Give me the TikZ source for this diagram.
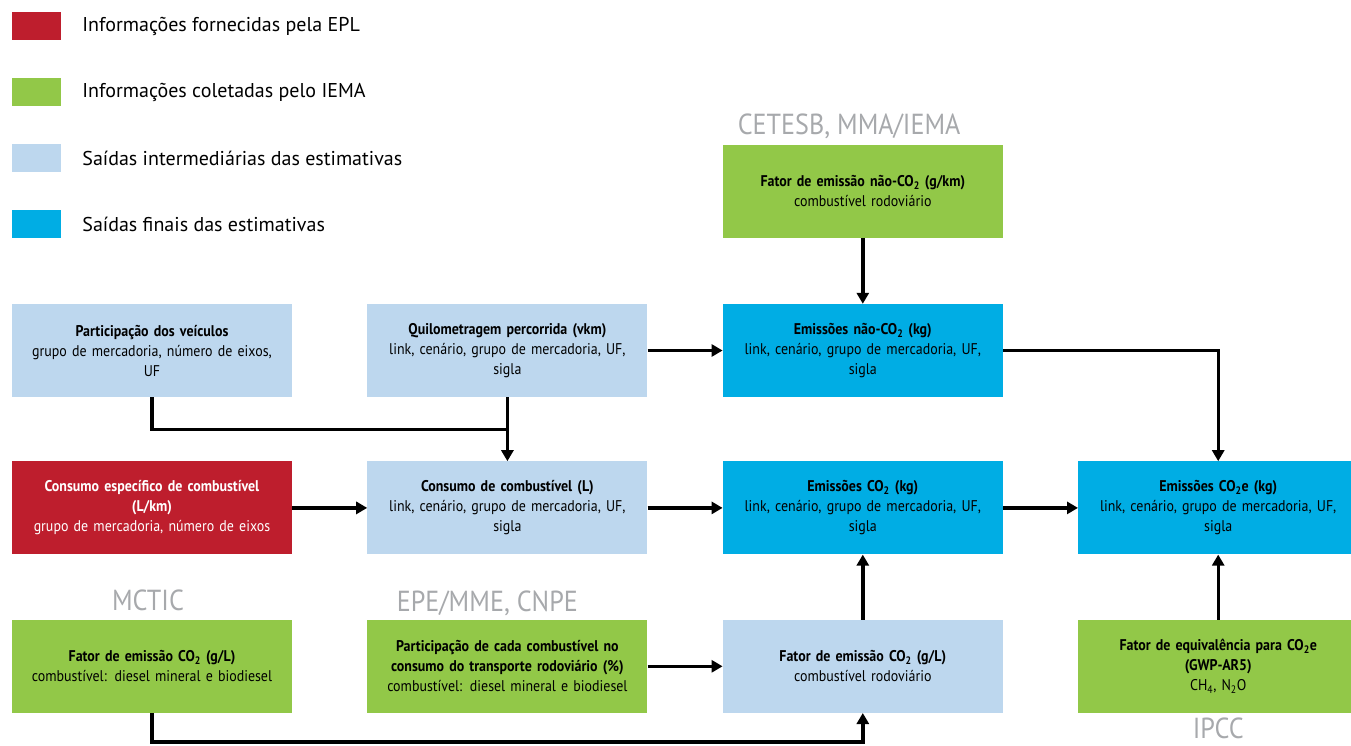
\documentclass[tikz,border=0pt]{standalone}
\usepackage{fontspec}
\setmainfont{PT Sans}
\newfontfamily\narrowfont[FakeStretch=0.9]{PT Sans}
\usetikzlibrary{arrows.meta, positioning, calc}

\definecolor{eplred}{RGB}{190,30,45}
\definecolor{iemagreen}{RGB}{146,200,72}
\definecolor{interblue}{RGB}{189,215,238}
\definecolor{finalblue}{RGB}{0,173,228}
\definecolor{srcgrey}{RGB}{167,169,172}

\begin{document}
\begin{tikzpicture}[
    x=1pt, y=-1pt,
    node distance=64pt and 75pt,
    >={Triangle[length=11pt, width=12pt]},
    block/.style = {rectangle, text width=262pt, inner xsep=9pt, inner ysep=0pt, minimum height=93pt, align=center, font=\narrowfont\fontsize{15.5}{20}\selectfont},
    epl/.style = {block, fill=eplred, text=white},
    iema/.style = {block, fill=iemagreen},
    inter/.style = {block, fill=interblue},
    final/.style = {block, fill=finalblue},
    legbox/.style = {rectangle, minimum width=49pt, minimum height=28pt, inner sep=0pt},
    legtext/.style = {inner sep=0pt, font=\fontsize{20}{24}\selectfont},
    src/.style = {inner sep=0pt, text=srcgrey, font=\narrowfont\fontsize{29}{32}\selectfont},
    conn/.style = {draw, ->, line width=3.4pt, black},
    link/.style = {draw, line width=3.4pt, black}
]
    \useasboundingbox (0,0) rectangle (1351,746);

    % legend
    \node [legbox, fill=eplred] (legepl) at (36.5,26) {};
    \node [legtext, right=21pt of legepl] (txtepl) {Informações fornecidas pela EPL};
    \node [legbox, fill=iemagreen] (legiema) at (36.5,92.5) {};
    \node [legtext, right=21pt of legiema] (txtiema) {Informações coletadas pelo IEMA};
    \node [legbox, fill=interblue] (leginter) at (36.5,158.5) {};
    \node [legtext, right=21pt of leginter] (txtinter) {Saídas intermediárias das estimativas};
    \node [legbox, fill=finalblue] (legfinal) at (36.5,224) {};
    \node [legtext, right=21pt of legfinal] (txtfinal) {Saídas finais das estimativas};

    % blocks
    \node [inter] (part) at (152,350.5) {\textbf{Participação dos veículos}\\grupo de mercadoria, número de eixos,\\UF};
    \node [inter, right=of part] (vkm) {\textbf{Quilometragem percorrida (vkm)}\\link, cenário, grupo de mercadoria, UF,\\sigla};
    \node [final, right=of vkm] (naoco2) {\textbf{Emissões não-CO\textsubscript{2} (kg)}\\link, cenário, grupo de mercadoria, UF,\\sigla};
    \node [iema, above=66pt of naoco2] (fatnao) {\textbf{Fator de emissão não-CO\textsubscript{2} (g/km)}\\combustível rodoviário};
    \node [epl, below=of part] (consesp) {\textbf{Consumo específico de combustível}\\\textbf{(L/km)}\\grupo de mercadoria, número de eixos};
    \node [inter, below=of vkm] (cons) {\textbf{Consumo de combustível (L)}\\link, cenário, grupo de mercadoria, UF,\\sigla};
    \node [final, below=of naoco2] (emco2) {\textbf{Emissões CO\textsubscript{2} (kg)}\\link, cenário, grupo de mercadoria, UF,\\sigla};
    \node [final, right=of emco2] (co2e) {\textbf{Emissões CO\textsubscript{2}e (kg)}\\link, cenário, grupo de mercadoria, UF,\\sigla};
    \node [iema, below=65pt of consesp] (fatco2) {\textbf{Fator de emissão CO\textsubscript{2} (g/L)}\\combustível: diesel mineral e biodiesel};
    \node [iema, below=65pt of cons] (partcomb) {\textbf{Participação de cada combustível no}\\\textbf{consumo do transporte rodoviário (\%)}\\combustível: diesel mineral e biodiesel};
    \node [inter, below=65pt of emco2] (fatL) {\textbf{Fator de emissão CO\textsubscript{2} (g/L)}\\combustível rodoviário};
    \node [iema, below=65pt of co2e] (gwp) {\textbf{Fator de equivalência para CO\textsubscript{2}e}\\\textbf{(GWP-AR5)}\\CH\textsubscript{4}, N\textsubscript{2}O};

    % sources
    \node [src, above right=5pt and 15pt of fatnao.north west] (cetesb) {CETESB, MMA/IEMA};
    \node [src, above=9pt of fatco2, xshift=-4pt] (mctic) {MCTIC};
    \node [src, above=4pt of partcomb, xshift=-20pt] (epe) {EPE/MME, CNPE};
    \node [src, below=5pt of gwp] (ipcc) {IPCC};

    % connectors
    \coordinate (join) at ($(vkm.south)!0.5!(cons.north)$);
    \coordinate (bottom) at ($(fatco2.south)+(0,-29pt)$);
    \draw [link] (part.south) |- (join);
    \draw [conn] (vkm) -- (cons);
    \draw [conn] (consesp) -- (cons);
    \draw [conn] (vkm) -- (naoco2);
    \draw [conn] (cons) -- (emco2);
    \draw [conn] (fatnao) -- (naoco2);
    \draw [conn] (naoco2.east) -| (co2e.north);
    \draw [conn] (emco2) -- (co2e);
    \draw [conn] (fatL) -- (emco2);
    \draw [conn] (gwp) -- (co2e);
    \draw [conn] (partcomb) -- (fatL);
    \draw [conn] (fatco2.south) -- (bottom) -| (fatL.south);
\end{tikzpicture}
\end{document}
